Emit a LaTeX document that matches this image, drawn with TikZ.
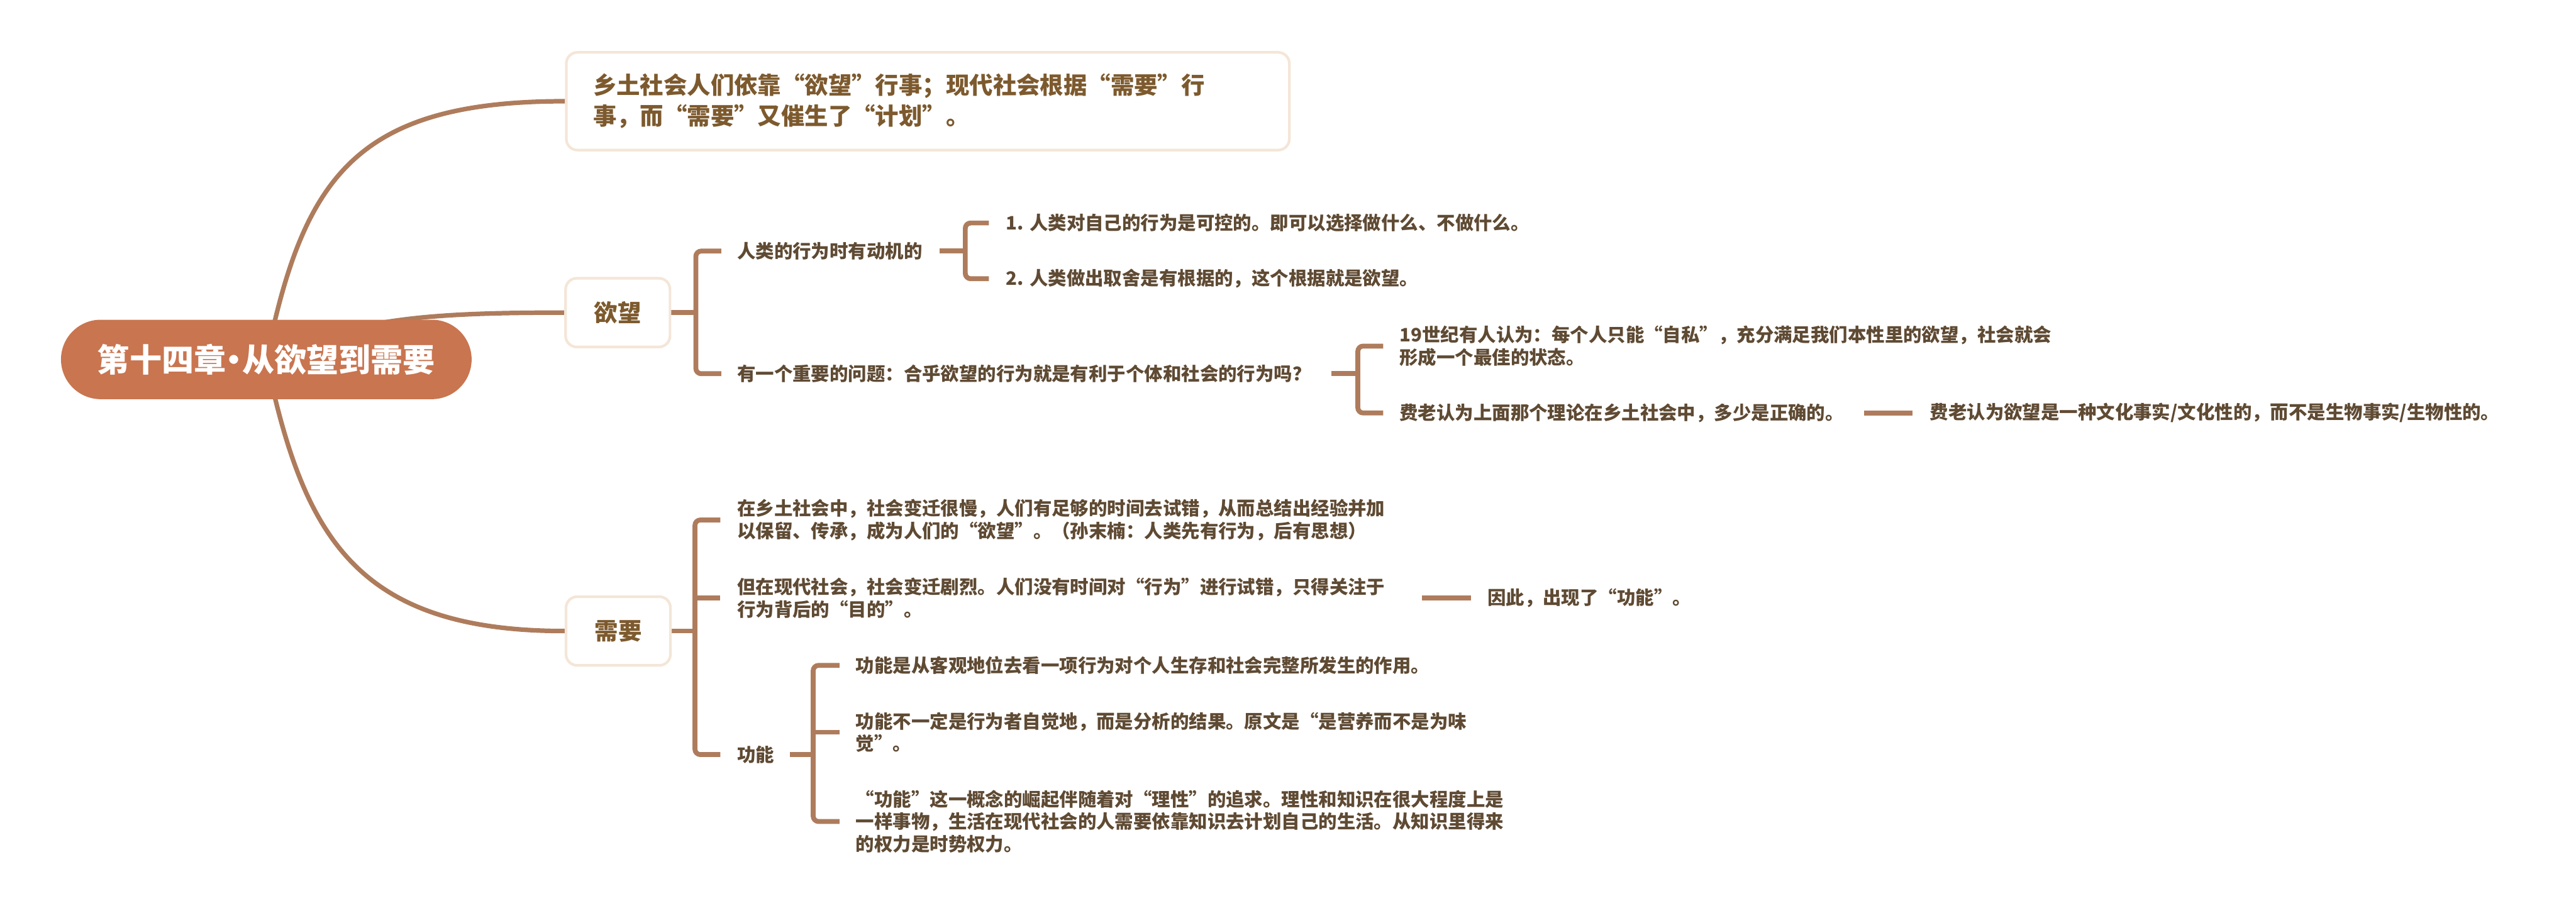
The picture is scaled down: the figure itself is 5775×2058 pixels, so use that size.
\documentclass[tikz,border=0pt]{standalone}
\usepackage{fontspec}
\setmainfont{Noto Sans CJK SC}
\usetikzlibrary{calc}
\definecolor{rootfill}{HTML}{C97550}
\definecolor{conn}{HTML}{AE7C5C}
\definecolor{boxline}{HTML}{F4E6D8}
\definecolor{labeltxt}{HTML}{7D5A2E}
\definecolor{detailtxt}{HTML}{5F4A33}
\pgfdeclarelayer{bg}
\pgfsetlayers{bg,main}
\begin{document}
\begin{tikzpicture}[x=0.01cm,y=-0.01cm,
  rootnode/.style={fill=rootfill, rounded corners=0.89cm, minimum width=9.2cm, minimum height=1.78cm, text=white, font=\bfseries\fontsize{20.5pt}{24pt}\selectfont, inner sep=0},
  topicbox/.style={draw=boxline, line width=1.7pt, fill=white, rounded corners=0.25cm, text=labeltxt, font=\bfseries\fontsize{15pt}{19.6pt}\selectfont, inner sep=0},
  detail/.style={anchor=west, inner sep=0, text=detailtxt, align=left, font=\bfseries\fontsize{11.8pt}{14.2pt}\selectfont},
  mainline/.style={draw=conn, line width=2.9pt},
  brline/.style={draw=conn, line width=3.1pt, rounded corners=0.12cm},
]
\useasboundingbox (0,0) rectangle (5775,2058);

% root and first-level topics
\node[rootnode] (root) at (597,806) {第十四章\kern-0.25em·\kern-0.25em从欲望到需要};
\node[topicbox, text width=15cm, align=left, inner xsep=0.6cm, minimum height=2.19cm] (tb) at (2080,227) {乡土社会人们依靠“欲望”行事；现代社会根据“需要”行\\事，而“需要”又催生了“计划”。};
\node[topicbox, minimum width=2.34cm, minimum height=1.54cm] (yw) at (1385,701) {欲望};
\node[topicbox, minimum width=2.34cm, minimum height=1.54cm] (xy) at (1386,1415) {需要};

% 欲望 branch
\node[detail] (a1) at (1652,563) {人类的行为时有动机的};
\node[detail] (a11) at (2255,500) {1. 人类对自己的行为是可控的。即可以选择做什么、不做什么。};
\node[detail] (a12) at (2255,625) {2. 人类做出取舍是有根据的，这个根据就是欲望。};
\node[detail] (a2) at (1652,838) {有一个重要的问题：合乎欲望的行为就是有利于个体和社会的行为吗？};
\node[detail] (a21) at (3137,776) {19世纪有人认为：每个人只能“自私”，充分满足我们本性里的欲望，社会就会\\形成一个最佳的状态。};
\node[detail] (a22) at (3137,926) {费老认为上面那个理论在乡土社会中，多少是正确的。};
\node[detail] (a221) at (4326,926) {费老认为欲望是一种文化事实/文化性的，而不是生物事实/生物性的。};

% 需要 branch
\node[detail] (b1) at (1652,1166) {在乡土社会中，社会变迁很慢，人们有足够的时间去试错，从而总结出经验并加\\以保留、传承，成为人们的“欲望”。（孙末楠：人类先有行为，后有思想）};
\node[detail, text width=14.95cm] (b2) at (1652,1341) {但在现代社会，社会变迁剧烈。人们没有时间对“行为”进行试错，只得关注于\\行为背后的“目的”。};
\node[detail] (b21) at (3334,1341) {因此，出现了“功能”。};
\node[detail] (b3) at (1652,1692) {功能};
\node[detail] (b31) at (1918,1492) {功能是从客观地位去看一项行为对个人生存和社会完整所发生的作用。};
\node[detail] (b32) at (1918,1642) {功能不一定是行为者自觉地，而是分析的结果。原文是“是营养而不是为味\\觉”。};
\node[detail] (b33) at (1918,1842) {“功能”这一概念的崛起伴随着对“理性”的追求。理性和知识在很大程度上是\\一样事物，生活在现代社会的人需要依靠知识去计划自己的生活。从知识里得来\\的权力是时势权力。};

% spine coordinates
\coordinate (kyw) at ($(a1.west)+(-92,0)$);
\coordinate (ka1) at ($(a11.west)+(-91,0)$);
\coordinate (ka2) at ($(a21.west)+(-93,0)$);
\coordinate (kxy) at ($(b1.west)+(-94,0)$);
\coordinate (kgn) at ($(b31.west)+(-95,0)$);

\begin{pgfonlayer}{bg}
% main curves
\draw[mainline] (root.center) .. controls +(83,-406) and +(-471,0) .. (tb.west);
\draw[mainline] (root.center) .. controls +(193,-91) and +(-318,0) .. (yw.west);
\draw[mainline] (root.center) .. controls +(83,394) and +(-470,0) .. (xy.west);

% 欲望 bracket
\draw[brline] (yw.east) -- (yw.east -| kyw);
\draw[brline] ($(a1.west)+(-35,0)$) -- (a1.west -| kyw) -- (a2.west -| kyw) -- ($(a2.west)+(-35,0)$);

% a1 bracket
\draw[brline] ($(a1.east)+(38,0)$) -- (a1.east -| ka1);
\draw[brline] ($(a11.west)+(-38,0)$) -- (a11.west -| ka1) -- (a12.west -| ka1) -- ($(a12.west)+(-38,0)$);

% a2 bracket
\draw[brline] ($(a2.east)+(45,0)$) -- (a2.east -| ka2);
\draw[brline] ($(a21.west)+(-36,0)$) -- (a21.west -| ka2) -- (a22.west -| ka2) -- ($(a22.west)+(-36,0)$);

% a22 -> a221
\draw[brline] ($(a22.east)+(45,0)$) -- ($(a221.west)+(-38,0)$);

% 需要 bracket
\draw[brline] (xy.east) -- (xy.east -| kxy);
\draw[brline] ($(b1.west)+(-37,0)$) -- (b1.west -| kxy) -- (b3.west -| kxy) -- ($(b3.west)+(-37,0)$);
\draw[brline] (b2.west -| kxy) -- ($(b2.west)+(-37,0)$);

% b2 -> b21
\draw[brline] ($(b2.east)+(38,0)$) -- ($(b21.west)+(-36,0)$);

% 功能 bracket
\draw[brline] ($(b3.east)+(34,0)$) -- (b3.east -| kgn);
\draw[brline] ($(b31.west)+(-36,0)$) -- (b31.west -| kgn) -- (b33.west -| kgn) -- ($(b33.west)+(-36,0)$);
\draw[brline] (b32.west -| kgn) -- ($(b32.west)+(-36,0)$);
\end{pgfonlayer}
\end{tikzpicture}
\end{document}
